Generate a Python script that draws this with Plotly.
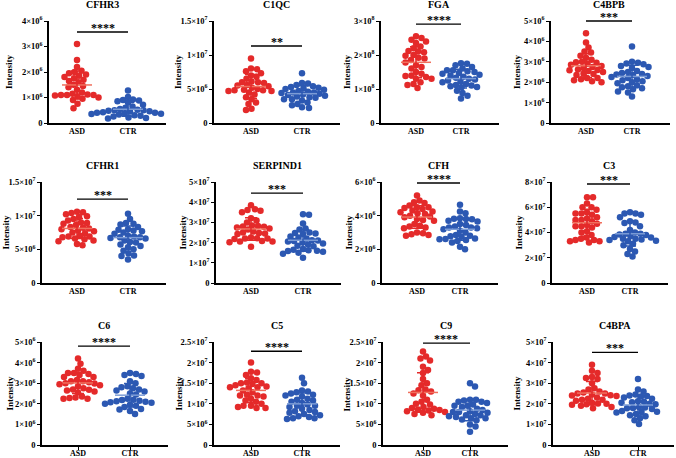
import numpy as np
import plotly.graph_objects as go

# ---------------- data ----------------
proteins = ["CFHR3", "C1QC", "FGA", "C4BPB", "CFHR1", "SERPIND1",
            "CFH", "C3", "C6", "C5", "C9", "C4BPA"]
groups = ["ASD", "CTR"]
stars = ["****", "**", "****", "***", "***", "***",
         "****", "***", "****", "****", "****", "***"]

cfhr3_asd = np.array([3.1, 2.47, 2.2, 2.05, 2.0, 1.95, 1.9, 1.85, 1.8, 1.75, 1.7, 1.65, 1.6, 1.5, 1.45,
                      1.4, 1.3, 1.2, 1.15, 1.12, 1.1, 1.1, 1.08, 1.1, 1.05, 1.0, 0.95, 0.9, 0.75, 0.58]) * 1e6
cfhr3_ctr = np.array([1.27, 1.02, 0.92, 0.9, 0.88, 0.85, 0.8, 0.72, 0.65, 0.6, 0.55, 0.52, 0.5, 0.5, 0.48,
                      0.46, 0.45, 0.42, 0.4, 0.4, 0.38, 0.36, 0.35, 0.33, 0.3, 0.28, 0.25, 0.22, 0.2, 0.18]) * 1e6
c1qc_asd = np.array([9.5, 8.0, 7.9, 7.6, 7.3, 7.0, 6.8, 6.5, 6.1, 6.0, 6.0, 5.9, 5.6, 5.5, 5.4,
                     5.2, 5.0, 4.9, 4.8, 4.8, 4.7, 4.7, 4.5, 4.2, 3.8, 3.5, 3.0, 2.8, 2.1, 1.9]) * 1e6
c1qc_ctr = np.array([7.3, 5.9, 5.8, 5.6, 5.4, 5.3, 5.2, 5.1, 5.0, 4.9, 4.7, 4.6, 4.5, 4.5, 4.4,
                     4.3, 4.2, 4.1, 4.0, 3.9, 3.8, 3.7, 3.5, 3.5, 3.3, 3.0, 2.8, 2.6, 2.3, 2.2]) * 1e6
fga_asd = np.array([2.55, 2.5, 2.45, 2.4, 2.35, 2.25, 2.2, 2.12, 2.1, 2.08, 2.0, 1.98, 1.92, 1.9, 1.85,
                    1.78, 1.7, 1.65, 1.6, 1.5, 1.45, 1.4, 1.38, 1.35, 1.3, 1.3, 1.2, 1.15, 1.12, 1.03]) * 1e8
fga_ctr = np.array([1.76, 1.74, 1.7, 1.65, 1.6, 1.55, 1.55, 1.52, 1.5, 1.47, 1.45, 1.42, 1.4, 1.36, 1.33,
                    1.3, 1.28, 1.25, 1.22, 1.2, 1.15, 1.12, 1.1, 1.08, 1.06, 1.05, 0.95, 0.88, 0.8, 0.72]) * 1e8
c4bpb_asd = np.array([4.4, 3.95, 3.7, 3.5, 3.45, 3.3, 3.2, 3.1, 3.0, 2.98, 2.95, 2.9, 2.85, 2.8, 2.75,
                      2.7, 2.62, 2.6, 2.58, 2.55, 2.5, 2.42, 2.4, 2.35, 2.2, 2.2, 2.15, 2.1, 2.05, 2.0]) * 1e6
c4bpb_ctr = np.array([3.75, 3.0, 2.95, 2.92, 2.88, 2.8, 2.75, 2.7, 2.55, 2.5, 2.45, 2.4, 2.38, 2.35, 2.3,
                      2.25, 2.2, 2.15, 2.1, 2.05, 2.0, 1.95, 1.85, 1.8, 1.75, 1.7, 1.65, 1.55, 1.5, 1.3]) * 1e6
cfhr1_asd = np.array([10.6, 10.5, 10.4, 10.2, 9.9, 9.8, 9.5, 9.3, 9.0, 8.9, 8.8, 8.6, 8.3, 8.2, 8.1,
                      8.0, 7.8, 7.7, 7.5, 7.4, 7.0, 6.9, 6.9, 6.8, 6.6, 6.5, 6.3, 6.2, 5.8, 5.6]) * 1e6
cfhr1_ctr = np.array([10.3, 9.5, 8.9, 8.8, 8.7, 8.3, 8.0, 7.9, 7.8, 7.7, 7.5, 7.3, 7.0, 6.9, 6.8,
                      6.8, 6.7, 6.6, 6.3, 6.1, 6.0, 5.7, 5.5, 5.3, 5.0, 4.8, 4.4, 4.1, 4.0, 3.5]) * 1e6
serpind1_asd = np.array([3.85, 3.65, 3.62, 3.58, 3.5, 3.2, 3.1, 3.0, 2.85, 2.82, 2.8, 2.78, 2.75, 2.7, 2.65,
                         2.55, 2.5, 2.48, 2.45, 2.42, 2.25, 2.22, 2.2, 2.2, 2.18, 2.08, 2.05, 2.05, 2.02, 1.8]) * 1e7
serpind1_ctr = np.array([3.4, 3.38, 2.95, 2.7, 2.65, 2.5, 2.48, 2.45, 2.42, 2.3, 2.25, 2.2, 2.12, 2.1, 2.08,
                         2.05, 2.0, 1.95, 1.9, 1.85, 1.82, 1.68, 1.65, 1.62, 1.6, 1.58, 1.55, 1.5, 1.45, 1.25]) * 1e7
cfh_asd = np.array([5.2, 4.9, 4.8, 4.75, 4.6, 4.5, 4.5, 4.45, 4.4, 4.3, 4.25, 4.2, 4.15, 4.1, 4.0,
                    3.95, 3.9, 3.8, 3.75, 3.7, 3.5, 3.4, 3.35, 3.3, 3.25, 3.0, 2.95, 2.9, 2.85, 2.8]) * 1e6
cfh_ctr = np.array([4.65, 4.25, 4.15, 3.85, 3.82, 3.8, 3.78, 3.7, 3.65, 3.5, 3.45, 3.35, 3.3, 3.3, 3.25,
                    3.2, 3.1, 3.0, 2.85, 2.8, 2.78, 2.75, 2.65, 2.62, 2.6, 2.55, 2.5, 2.4, 2.15, 2.0]) * 1e6
c3_asd = np.array([6.8, 6.8, 6.3, 6.0, 6.0, 5.8, 5.6, 5.5, 5.5, 5.4, 5.2, 5.1, 5.0, 5.0, 4.9,
                   4.7, 4.6, 4.5, 4.5, 4.4, 4.1, 4.0, 3.8, 3.6, 3.5, 3.4, 3.4, 3.3, 3.3, 3.2]) * 1e7
c3_ctr = np.array([5.6, 5.5, 5.5, 5.4, 5.2, 4.9, 4.8, 4.75, 4.5, 4.2, 4.0, 3.9, 3.9, 3.85, 3.8,
                   3.7, 3.65, 3.6, 3.5, 3.5, 3.45, 3.4, 3.35, 3.3, 3.1, 3.0, 2.7, 2.5, 2.3, 2.1]) * 1e7
c6_asd = np.array([4.2, 3.95, 3.7, 3.6, 3.5, 3.5, 3.45, 3.4, 3.3, 3.3, 3.15, 3.1, 3.1, 3.05, 3.0,
                   2.98, 2.95, 2.9, 2.85, 2.75, 2.7, 2.68, 2.65, 2.6, 2.55, 2.35, 2.3, 2.28, 2.25, 2.25]) * 1e6
c6_ctr = np.array([3.5, 3.45, 3.4, 3.35, 3.1, 3.0, 2.85, 2.8, 2.75, 2.7, 2.65, 2.6, 2.5, 2.45, 2.25,
                   2.2, 2.18, 2.15, 2.12, 2.1, 2.08, 2.05, 2.0, 1.95, 1.9, 1.85, 1.75, 1.72, 1.65, 1.5]) * 1e6
c5_asd = np.array([2.0, 1.78, 1.76, 1.7, 1.62, 1.58, 1.52, 1.5, 1.5, 1.48, 1.45, 1.42, 1.4, 1.4, 1.38,
                   1.32, 1.28, 1.22, 1.2, 1.2, 1.18, 1.12, 1.08, 1.05, 1.0, 0.95, 0.95, 0.92, 0.9, 0.9]) * 1e7
c5_ctr = np.array([1.63, 1.5, 1.32, 1.3, 1.28, 1.25, 1.22, 1.2, 1.18, 1.12, 1.1, 1.08, 1.05, 1.02, 0.98,
                   0.95, 0.95, 0.92, 0.88, 0.85, 0.82, 0.8, 0.78, 0.75, 0.72, 0.7, 0.68, 0.65, 0.65, 0.63]) * 1e7
c9_asd = np.array([2.27, 2.15, 2.1, 2.05, 1.9, 1.82, 1.75, 1.6, 1.5, 1.45, 1.35, 1.33, 1.3, 1.25, 1.2,
                   1.1, 1.05, 1.0, 0.98, 0.92, 0.9, 0.88, 0.86, 0.85, 0.84, 0.82, 0.8, 0.78, 0.75, 0.72]) * 1e7
c9_ctr = np.array([1.5, 1.42, 1.1, 1.1, 1.08, 1.05, 1.05, 1.02, 0.98, 0.95, 0.95, 0.92, 0.88, 0.85, 0.82,
                   0.8, 0.8, 0.78, 0.75, 0.72, 0.72, 0.7, 0.68, 0.65, 0.65, 0.62, 0.6, 0.5, 0.45, 0.32]) * 1e7
c4bpa_asd = np.array([3.9, 3.6, 3.5, 3.3, 3.25, 3.2, 3.0, 2.75, 2.7, 2.6, 2.55, 2.5, 2.5, 2.45, 2.42,
                      2.4, 2.38, 2.3, 2.25, 2.2, 2.2, 2.15, 2.05, 2.02, 2.0, 1.98, 1.95, 1.9, 1.85, 1.78]) * 1e7
c4bpa_ctr = np.array([3.2, 2.7, 2.6, 2.45, 2.4, 2.38, 2.35, 2.3, 2.25, 2.12, 2.1, 2.08, 2.05, 2.0, 1.98,
                      1.85, 1.82, 1.8, 1.78, 1.75, 1.65, 1.62, 1.6, 1.58, 1.5, 1.45, 1.4, 1.3, 1.2, 1.02]) * 1e7

values = [(cfhr3_asd, cfhr3_ctr), (c1qc_asd, c1qc_ctr), (fga_asd, fga_ctr), (c4bpb_asd, c4bpb_ctr),
          (cfhr1_asd, cfhr1_ctr), (serpind1_asd, serpind1_ctr), (cfh_asd, cfh_ctr), (c3_asd, c3_ctr),
          (c6_asd, c6_ctr), (c5_asd, c5_ctr), (c9_asd, c9_ctr), (c4bpa_asd, c4bpa_ctr)]

y_max = [4e6, 1.5e7, 3e8, 5e6, 1.5e7, 5e7, 6e6, 8e7, 5e6, 2.5e7, 2.5e7, 5e7]
y_step = [1e6, 5e6, 1e8, 1e6, 5e6, 1e7, 2e6, 2e7, 1e6, 5e6, 5e6, 1e7]

# ---------------- layout geometry (pixels) ----------------
W, H = 676, 458
# left axis x, ASD x, CTR x, top y, bottom y, "Intensity" x, title y, sig-bar fraction
geom = [
    (49, 77, 128, 21, 123, 9, 4, 0.892),
    (214, 251, 302, 21, 123, 178, 4, 0.755),
    (381, 416, 461, 21, 123, 347, 4, 0.97),
    (551, 586, 632, 21, 123, 517, 4, 1.0),
    (42, 77, 128, 182, 283, 5, 165, 0.83),
    (216, 251, 303, 182, 283, 182, 165, 0.89),
    (382, 417, 460, 182, 283, 348, 165, 0.99),
    (552, 587, 630, 182, 283, 518, 165, 0.98),
    (42, 78, 130, 342, 445, 9, 325, 0.96),
    (214, 251, 302, 342, 445, 178, 325, 0.91),
    (383, 423, 470, 342, 445, 346, 325, 0.99),
    (553, 592, 638, 342, 445, 516, 325, 0.90),
]

RED, BLUE = "#E42A2A", "#2C58B2"
RED_MEAN, BLUE_MEAN = "#F0705E", "#7C9CD6"
FONT = "Liberation Serif"
DOT = 6.5
GAP = 5.6


def fmt(v):
    if v == 0:
        return "<b>0</b>"
    n = int(np.floor(np.log10(v) + 1e-9))
    m = v / 10 ** n
    ms = f"{m:.0f}" if abs(m - round(m)) < 1e-6 else f"{m:.1f}"
    return f"<b>{ms}×10<sup>{n}</sup></b>"


def swarm(vals, px_per_val, d):
    ys = np.asarray(vals) * px_per_val
    order = np.argsort(-ys)
    xs = np.zeros(len(ys))
    placed = []
    cands = [0.0]
    for k in range(1, 200):
        cands += [k * 0.5, -k * 0.5]
    for i in order:
        for c in cands:
            ok = True
            for (px, py) in placed:
                if (px - c) ** 2 + (py - ys[i]) ** 2 < d * d:
                    ok = False
                    break
            if ok:
                xs[i] = c
                placed.append((c, ys[i]))
                break
    return xs


fig = go.Figure()
layout = dict(width=W, height=H, margin=dict(l=0, r=0, t=0, b=0, autoexpand=False),
              paper_bgcolor="white", plot_bgcolor="white", showlegend=False)
shapes, annotations = [], []

for i, (name, (asd, ctr)) in enumerate(zip(proteins, values)):
    left, xa_px, xc_px, top, bottom, ytx, tty, sfrac = geom[i]
    right = min(xc_px + 38, W - 2)
    u = xc_px - xa_px
    k = "" if i == 0 else str(i + 1)
    xname, yname = "x" + k, "y" + k
    ppv = (bottom - top) / y_max[i]

    for g, (vals, col, mcol) in enumerate([(asd, RED, RED_MEAN), (ctr, BLUE, BLUE_MEAN)]):
        off = swarm(vals, ppv, GAP) / u
        fig.add_trace(go.Scatter(x=g + off, y=vals, mode="markers", xaxis=xname, yaxis=yname,
                                 marker=dict(size=DOT, color=col, line=dict(width=0)),
                                 hoverinfo="skip", cliponaxis=False))
        m = float(np.mean(vals))
        sd = float(np.std(vals, ddof=1))
        mw = 15.0 / u
        fig.add_trace(go.Scatter(x=[g - mw, g + mw], y=[m, m], mode="lines", xaxis=xname, yaxis=yname,
                                 line=dict(color=mcol, width=1.5), hoverinfo="skip"))
        fig.add_trace(go.Scatter(x=[g], y=[m], mode="markers", xaxis=xname, yaxis=yname,
                                 marker=dict(size=1, opacity=0),
                                 error_y=dict(type="data", array=[sd], color=col, thickness=1.5, width=6),
                                 hoverinfo="skip"))

    tv = list(np.arange(0, y_max[i] + y_step[i] / 2, y_step[i]))
    bottom_row = i >= 8
    layout["xaxis" + k] = dict(domain=[left / W, right / W], anchor=yname, automargin=False,
                               range=[-(xa_px - left) / u, 1 + (right - xc_px) / u],
                               showline=True, linecolor="black", linewidth=1.5,
                               showgrid=False, zeroline=False,
                               tickvals=[0, 1], ticktext=["<b>ASD</b>", "<b>CTR</b>"],
                               ticks="outside" if bottom_row else "", ticklen=3, tickwidth=1.2,
                               tickcolor="black", ticklabelstandoff=-3 if bottom_row else 0,
                               tickfont=dict(family=FONT, size=8, color="black"))
    layout["yaxis" + k] = dict(domain=[1 - bottom / H, 1 - top / H], anchor=xname, automargin=False,
                               range=[0, y_max[i]], showline=True, linecolor="black", linewidth=1.5,
                               showgrid=False, zeroline=False, tickvals=tv,
                               ticktext=[fmt(v) for v in tv], ticks="outside", ticklen=3,
                               tickwidth=1.2, tickcolor="black",
                               tickfont=dict(family=FONT, size=8.5, color="black"))

    ybar = 1 - (bottom - sfrac * (bottom - top)) / H
    shapes.append(dict(type="line", xref=xname, yref="paper", x0=0, x1=1, y0=ybar, y1=ybar,
                       line=dict(color="black", width=1.3)))
    annotations.append(dict(text=f"<b>{stars[i]}</b>", xref=xname, yref="paper", x=0.5, y=ybar,
                            yanchor="bottom", yshift=-5, showarrow=False,
                            font=dict(family=FONT, size=12, color="black")))
    annotations.append(dict(text=f"<b>{name}</b>", xref=xname, yref="paper", x=0.5, y=1 - tty / H,
                            yanchor="middle", showarrow=False,
                            font=dict(family=FONT, size=10, color="black")))
    annotations.append(dict(text="<b>Intensity</b>", xref="paper", yref="paper", x=ytx / W,
                            y=1 - (top + bottom) / 2 / H, textangle=-90, xanchor="center",
                            yanchor="middle", showarrow=False,
                            font=dict(family=FONT, size=9, color="black")))

layout["shapes"] = shapes
layout["annotations"] = annotations
fig.update_layout(**layout)
fig.write_html("out.html", config={"displayModeBar": False},
               post_script="document.body.style.margin='0';document.body.style.overflow='hidden';")
